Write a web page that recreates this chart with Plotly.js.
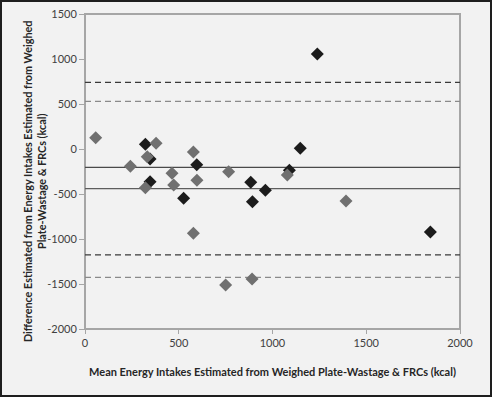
<!DOCTYPE html>
<html>
<head>
<meta charset="utf-8">
<script src="https://cdn.plot.ly/plotly-3.0.1.min.js"></script>
<style>
html,body{margin:0;padding:0;background:#f2f2f2;}
#chart{width:488px;height:393px;border:2px solid #1e1e1e;}
</style>
</head>
<body>
<div id="chart"></div>
<script>
// Series 1 (black diamonds)
const blackX = [322, 347, 347, 526, 596, 884, 893, 962, 1090, 1148, 1239, 1842];
const blackY = [52, -111, -363, -548, -174, -370, -585, -459, -237, 8, 1056, -922];
// Series 2 (grey diamonds)
const grayX = [57, 242, 322, 332, 379, 464, 473, 578, 578, 597, 750, 766, 891, 1079, 1392];
const grayY = [126, -193, -430, -85, 63, -270, -400, -33, -937, -348, -1511, -252, -1444, -289, -578];
// Mean difference and limits of agreement
const blackMean = -205, blackUpper = 741, blackLower = -1176;
const grayMean = -440, grayUpper = 530, grayLower = -1426;
const lineX = [0, 2000];
const xTicks = [0, 500, 1000, 1500, 2000];
const yTicks = [1500, 1000, 500, 0, -500, -1000, -1500, -2000];

const font = "Lato, 'Liberation Sans', sans-serif";
function hline(v, color, dash) {
  return {x: lineX, y: [v, v], mode: 'lines', line: {color: color, width: 1.3, dash: dash},
          hoverinfo: 'skip', showlegend: false};
}
const traces = [
  hline(blackUpper, '#3a3a3a', '6px,4px'),
  hline(grayUpper, '#8a8a8a', '6px,4px'),
  hline(blackMean, '#4a4a4a', 'solid'),
  hline(grayMean, '#5e5e5e', 'solid'),
  hline(blackLower, '#3a3a3a', '6px,4px'),
  hline(grayLower, '#8a8a8a', '6px,4px'),
  {x: blackX, y: blackY, mode: 'markers', type: 'scatter',
   marker: {symbol: 'diamond', size: 10, color: '#1c1c1c'}, showlegend: false},
  {x: grayX, y: grayY, mode: 'markers', type: 'scatter',
   marker: {symbol: 'diamond', size: 10, color: '#707070'}, showlegend: false}
];

const layout = {
  width: 488, height: 393,
  margin: {l: 83, r: 30, t: 12, b: 66},
  paper_bgcolor: '#f2f2f2', plot_bgcolor: '#f2f2f2',
  font: {family: font, size: 11, color: '#404040'},
  xaxis: {
    range: [0, 2000], tickvals: xTicks, ticktext: xTicks.map(String),
    showgrid: false, zeroline: false, showline: true, linecolor: '#a6a6a6', linewidth: 1,
    ticks: 'outside', ticklen: 4, tickcolor: '#a6a6a6',
    tickfont: {family: font, size: 11, color: '#404040'},
    title: {text: 'Mean Energy Intakes Estimated from Weighed Plate-Wastage & FRCs (kcal)',
            font: {family: font, size: 11, color: '#262626', weight: 'bold'}, standoff: 20}
  },
  yaxis: {
    range: [-2000, 1500], tickvals: yTicks, ticktext: yTicks.map(String),
    showgrid: false, zeroline: false, showline: true, linecolor: '#a6a6a6', linewidth: 1,
    ticks: 'outside', ticklen: 5, tickcolor: '#a6a6a6',
    tickfont: {family: font, size: 11, color: '#404040'}
  },
  shapes: [
    {type: 'rect', xref: 'paper', yref: 'paper', x0: 0, x1: 1, y0: 0, y1: 1,
     line: {color: '#a6a6a6', width: 2}, layer: 'below'}
  ],
  annotations: [
    {xref: 'paper', yref: 'paper', x: -0.133, y: 0.47, xanchor: 'center', yanchor: 'middle',
     textangle: -90, showarrow: false, align: 'center',
     text: 'Difference Estimated from Energy Intakes Estimated from Weighed<br>Plate-Wastage & FRCs (kcal)',
     font: {family: font, size: 10.8, color: '#262626', weight: 'bold'}}
  ]
};
Plotly.newPlot('chart', traces, layout, {displayModeBar: false, staticPlot: true});
</script>
</body>
</html>
